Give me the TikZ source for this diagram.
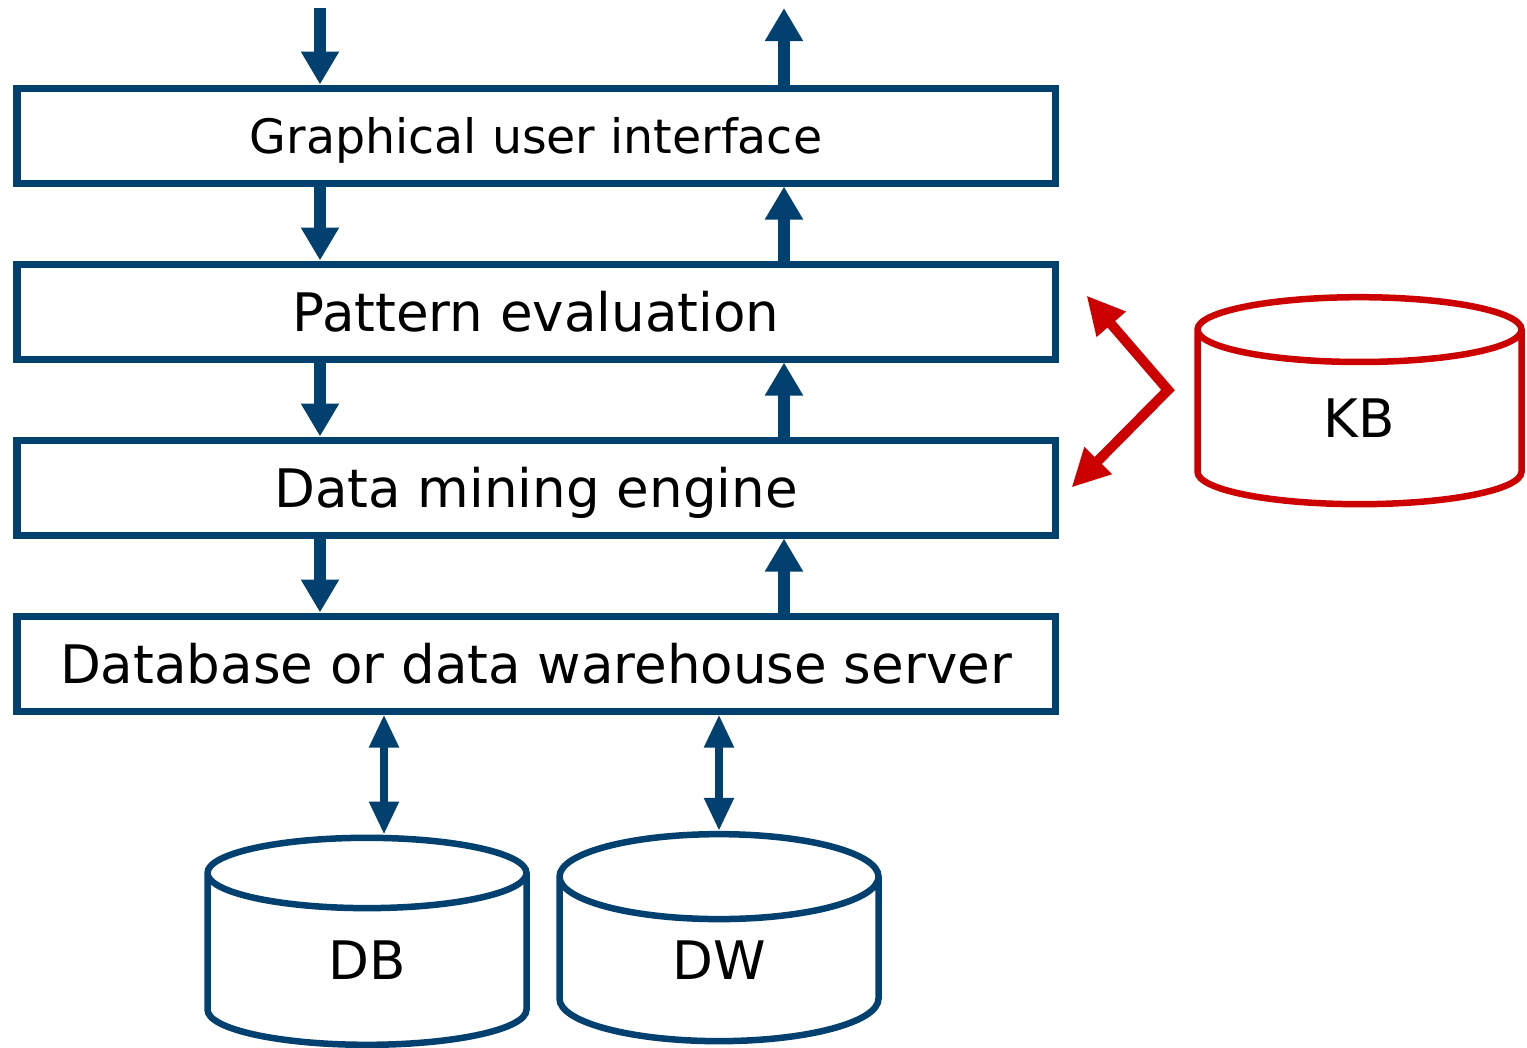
\documentclass[tikz,border=0pt]{standalone}
\usepackage{fontspec}
\setmainfont{DejaVu Sans}
\usetikzlibrary{arrows.meta,shapes.geometric,positioning}
\definecolor{dmblue}{RGB}{2,64,112}
\definecolor{kbred}{RGB}{204,0,0}
\tikzset{
      layer/.style   = {draw=dmblue, line width=0.07cm, minimum width=10.38cm, minimum height=0.95cm, inner sep=0pt, text depth=0pt, font=\fontsize{15.1}{18}\selectfont},
      flow/.style    = {dmblue, line width=0.12cm, -{Triangle[width=0.36cm,length=0.33cm]}},
      dual/.style    = {dmblue, line width=0.08cm, {Triangle[width=0.28cm,length=0.33cm]}-{Triangle[width=0.28cm,length=0.33cm]}},
      kbline/.style  = {kbred, line width=0.1cm, {Triangle[width=0.36cm,length=0.38cm]}-{Triangle[width=0.36cm,length=0.38cm]}},
      store/.style   = {cylinder, shape border rotate=90, draw=#1, line width=0.065cm, minimum width=3.19cm, minimum height=2.07cm, aspect=0.91, inner sep=0pt, font=\fontsize{15.1}{18}\selectfont},
    }

\begin{document}
\begin{tikzpicture}
    \useasboundingbox (0,0) rectangle (15.27,-10.47);

    % layers
    \node [layer] (gui) at (5.36,-1.355) {\fontsize{13.5}{16}\selectfont Graphical user interface};
    \node [layer] (pe)  at (5.36,-3.115) {Pattern evaluation};
    \node [layer] (dm)  at (5.36,-4.875) {Data mining engine};
    \node [layer] (srv) at (5.36,-6.635) {Database or data warehouse server};

    % stores
    \node [store=dmblue] (db) at (3.67,-9.605) {DB};
    \node [store=dmblue] (dw) at (7.19,-9.605) {DW};
    \node [store=kbred, minimum width=3.24cm]  (kb) at (13.595,-4.185) {KB};

    \coordinate (inL)  at (3.20,-0.08);
    \coordinate (outR) at (7.84,-0.08);
    \coordinate (elbow) at (11.68,-3.90);

    % down and up the layers
    \draw [flow] (inL) -- (inL |- gui.north);
    \draw [flow] (outR |- gui.north) -- (outR);
    \draw [flow] (inL |- gui.south) -- (inL |- pe.north);
    \draw [flow] (outR |- pe.north) -- (outR |- gui.south);
    \draw [flow] (inL |- pe.south) -- (inL |- dm.north);
    \draw [flow] (outR |- dm.north) -- (outR |- pe.south);
    \draw [flow] (inL |- dm.south) -- (inL |- srv.north);
    \draw [flow] (outR |- srv.north) -- (outR |- dm.south);

    % sources
    \draw [dual] (srv.south -| 3.84,0) -- (db.north -| 3.84,0);
    \draw [dual] (srv.south -| dw.north) -- (dw.north);

    % knowledge base
    \draw [kbline] ([xshift=2.8mm,yshift=1.6mm]pe.east) -- (elbow) -- ([xshift=1.3mm]dm.east);
\end{tikzpicture}
\end{document}
